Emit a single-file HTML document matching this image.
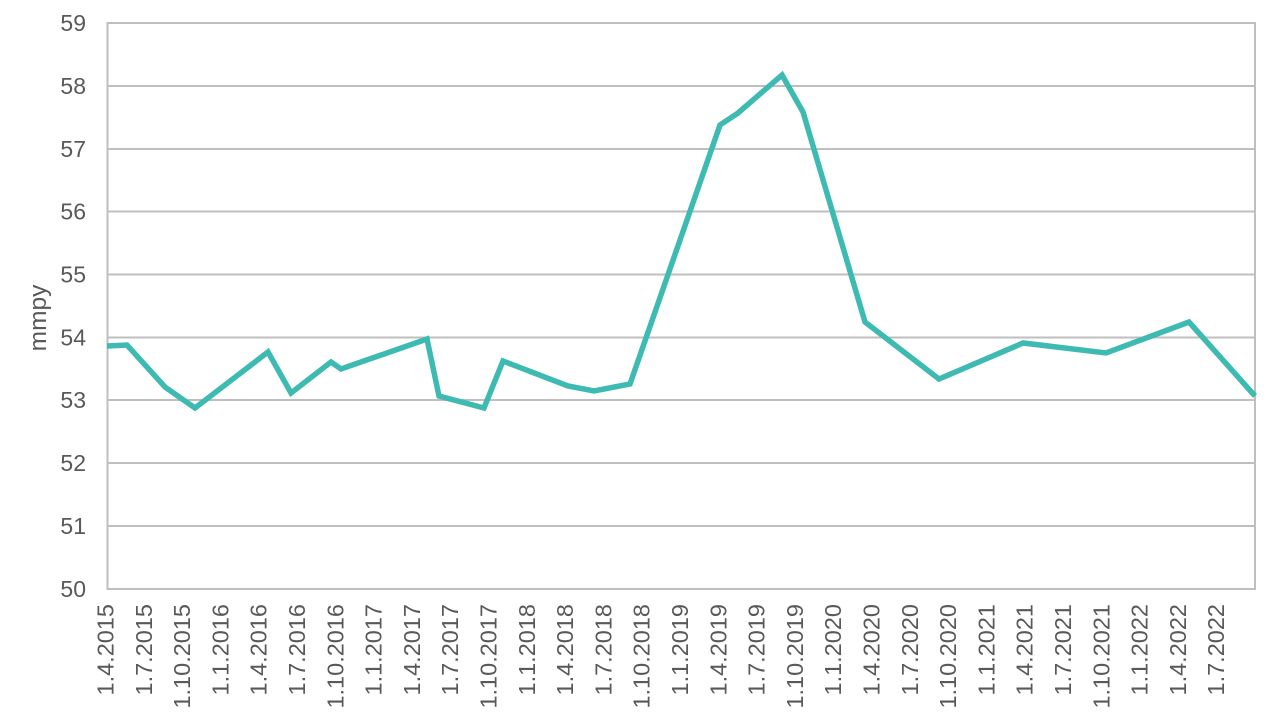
<!DOCTYPE html>
<html>
<head>
<meta charset="utf-8">
<style>
html,body{margin:0;padding:0;background:#fff;}
svg{display:block;}
text{font-family:"Liberation Sans",Arial,sans-serif;fill:#595959;}
</style>
</head>
<body>
<svg width="1280" height="720" viewBox="0 0 1280 720" xmlns="http://www.w3.org/2000/svg">
<rect width="1280" height="720" fill="#fff"/>
<g stroke="#bfbfbf" stroke-width="2" fill="none">
<line x1="107" y1="23" x2="1255" y2="23"/>
<line x1="107" y1="86" x2="1255" y2="86"/>
<line x1="107" y1="149" x2="1255" y2="149"/>
<line x1="107" y1="211.5" x2="1255" y2="211.5"/>
<line x1="107" y1="274.5" x2="1255" y2="274.5"/>
<line x1="107" y1="337.5" x2="1255" y2="337.5"/>
<line x1="107" y1="400" x2="1255" y2="400"/>
<line x1="107" y1="463" x2="1255" y2="463"/>
<line x1="107" y1="526" x2="1255" y2="526"/>
<line x1="107" y1="589" x2="1255" y2="589"/>
<line x1="107.5" y1="22" x2="107.5" y2="590"/>
<line x1="1255" y1="22" x2="1255" y2="590"/>
</g>
<g font-size="23" text-anchor="end">
<text x="86" y="31">59</text>
<text x="86" y="94">58</text>
<text x="86" y="157">57</text>
<text x="86" y="219.5">56</text>
<text x="86" y="282.5">55</text>
<text x="86" y="345.5">54</text>
<text x="86" y="408">53</text>
<text x="86" y="471">52</text>
<text x="86" y="534">51</text>
<text x="86" y="597">50</text>
</g>
<text transform="translate(46,318) rotate(-90)" font-size="24.5" text-anchor="middle">mmpy</text>
<polyline fill="none" stroke="#3dbab2" stroke-width="5.5" stroke-linejoin="miter" stroke-linecap="butt"
points="107,346 127,345 165,387 195,408 268,352 291,393 331,362 341,369 427,339 439,396 484,408 503,361 568,386 594,391 630,384 720,125 738,113 782,75 803,112 865,322 939,379 1023,343 1106,353 1189,322 1255,396"/>
<g font-size="23.5" text-anchor="end">
<text transform="translate(113.5,604) rotate(-90)">1.4.2015</text>
<text transform="translate(151.8,604) rotate(-90)">1.7.2015</text>
<text transform="translate(190.1,604) rotate(-90)">1.10.2015</text>
<text transform="translate(228.4,604) rotate(-90)">1.1.2016</text>
<text transform="translate(266.7,604) rotate(-90)">1.4.2016</text>
<text transform="translate(305.0,604) rotate(-90)">1.7.2016</text>
<text transform="translate(343.3,604) rotate(-90)">1.10.2016</text>
<text transform="translate(381.6,604) rotate(-90)">1.1.2017</text>
<text transform="translate(419.9,604) rotate(-90)">1.4.2017</text>
<text transform="translate(458.2,604) rotate(-90)">1.7.2017</text>
<text transform="translate(496.5,604) rotate(-90)">1.10.2017</text>
<text transform="translate(534.8,604) rotate(-90)">1.1.2018</text>
<text transform="translate(573.1,604) rotate(-90)">1.4.2018</text>
<text transform="translate(611.4,604) rotate(-90)">1.7.2018</text>
<text transform="translate(649.7,604) rotate(-90)">1.10.2018</text>
<text transform="translate(688.0,604) rotate(-90)">1.1.2019</text>
<text transform="translate(726.3,604) rotate(-90)">1.4.2019</text>
<text transform="translate(764.6,604) rotate(-90)">1.7.2019</text>
<text transform="translate(802.9,604) rotate(-90)">1.10.2019</text>
<text transform="translate(841.2,604) rotate(-90)">1.1.2020</text>
<text transform="translate(879.5,604) rotate(-90)">1.4.2020</text>
<text transform="translate(917.8,604) rotate(-90)">1.7.2020</text>
<text transform="translate(956.1,604) rotate(-90)">1.10.2020</text>
<text transform="translate(994.4,604) rotate(-90)">1.1.2021</text>
<text transform="translate(1032.7,604) rotate(-90)">1.4.2021</text>
<text transform="translate(1071.0,604) rotate(-90)">1.7.2021</text>
<text transform="translate(1109.3,604) rotate(-90)">1.10.2021</text>
<text transform="translate(1147.6,604) rotate(-90)">1.1.2022</text>
<text transform="translate(1185.9,604) rotate(-90)">1.4.2022</text>
<text transform="translate(1224.2,604) rotate(-90)">1.7.2022</text>
</g>
</svg>
</body>
</html>
